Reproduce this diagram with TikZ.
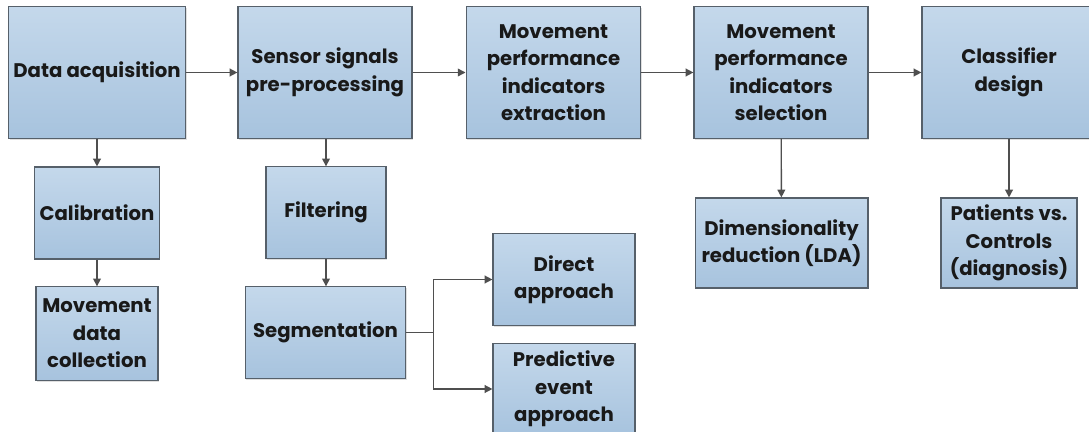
\documentclass[tikz,border=0pt]{standalone}
\usepackage{fontspec}
\setmainfont{Poppins}
\usepackage{tikz}
\usetikzlibrary{shadows, arrows.meta}

\definecolor{boxtop}{HTML}{C4D8EB}
\definecolor{boxbot}{HTML}{A7C3DE}
\definecolor{boxline}{HTML}{56606A}
\definecolor{arrowgray}{HTML}{4F4F4F}

\begin{document}
\begin{tikzpicture}[x=0.025cm, y=-0.025cm, >={Triangle[length=5.5pt, width=5.5pt]},
    stage/.style={rectangle, draw=boxline, line width=0.8pt, top color=boxtop, bottom color=boxbot,
      align=center, font=\fontsize{14}{19.5}\selectfont\bfseries, text=black!90,
      drop shadow={opacity=0.25, shadow xshift=1pt, shadow yshift=-1pt}},
    link/.style={->, draw=arrowgray, line width=1pt}]
  \useasboundingbox (0,0) rectangle (1089,432);

  % Nodes
  \node[stage, minimum width=4.4cm, minimum height=3.28cm] (acq) at (97,72.5) {Data acquisition};
  \node[stage, minimum width=4.35cm, minimum height=3.28cm] (pre) at (325,72.5) {Sensor signals\\pre-processing};
  \node[stage, minimum width=4.37cm, minimum height=3.28cm] (ext) at (553.5,72.5) {Movement\\performance\\indicators\\extraction};
  \node[stage, minimum width=4.35cm, minimum height=3.28cm] (sel) at (781,72.5) {Movement\\performance\\indicators\\selection};
  \node[stage, minimum width=4.35cm, minimum height=3.28cm] (cls) at (1009,72.5) {Classifier\\design};

  \node[stage, minimum width=3.05cm, minimum height=2.3cm] (cal) at (97,213) {Calibration};
  \node[stage, minimum width=3.05cm, minimum height=2.33cm] (mdc) at (97,333.5) {Movement\\data\\collection};
  \node[stage, minimum width=3cm, minimum height=2.28cm] (filt) at (326,212.5) {Filtering};
  \node[stage, minimum width=4.02cm, minimum height=2.28cm] (seg) at (325.5,332.5) {Segmentation};
  \node[stage, minimum width=3.55cm, minimum height=2.28cm] (dir) at (564,279.5) {Direct\\approach};
  \node[stage, minimum width=3.55cm, minimum height=2.28cm] (pred) at (564,389) {Predictive\\event\\approach};
  \node[stage, minimum width=4.32cm, minimum height=2.25cm] (dim) at (781.5,243) {Dimensionality\\reduction (LDA)};
  \node[stage, minimum width=3.4cm, minimum height=2.25cm] (pat) at (1009,243) {Patients vs.\\Controls\\(diagnosis)};

  % Arrows
  \draw[link] (acq) -- (pre);
  \draw[link] (pre) -- (ext);
  \draw[link] (ext) -- (sel);
  \draw[link] (sel) -- (cls);
  \draw[link] (acq) -- (cal);
  \draw[link] (cal) -- (mdc);
  \draw[link] (pre.south -| filt) -- (filt);
  \draw[link] (filt) -- (filt |- seg.north);
  \draw[link] (sel) -- (dim);
  \draw[link] (cls) -- (pat);
  \draw[draw=arrowgray, line width=1pt] (seg.east) -- ++(27,0) coordinate (fork);
  \draw[link] (fork) |- (dir.west);
  \draw[link] (fork) |- (pred.west);
\end{tikzpicture}
\end{document}
